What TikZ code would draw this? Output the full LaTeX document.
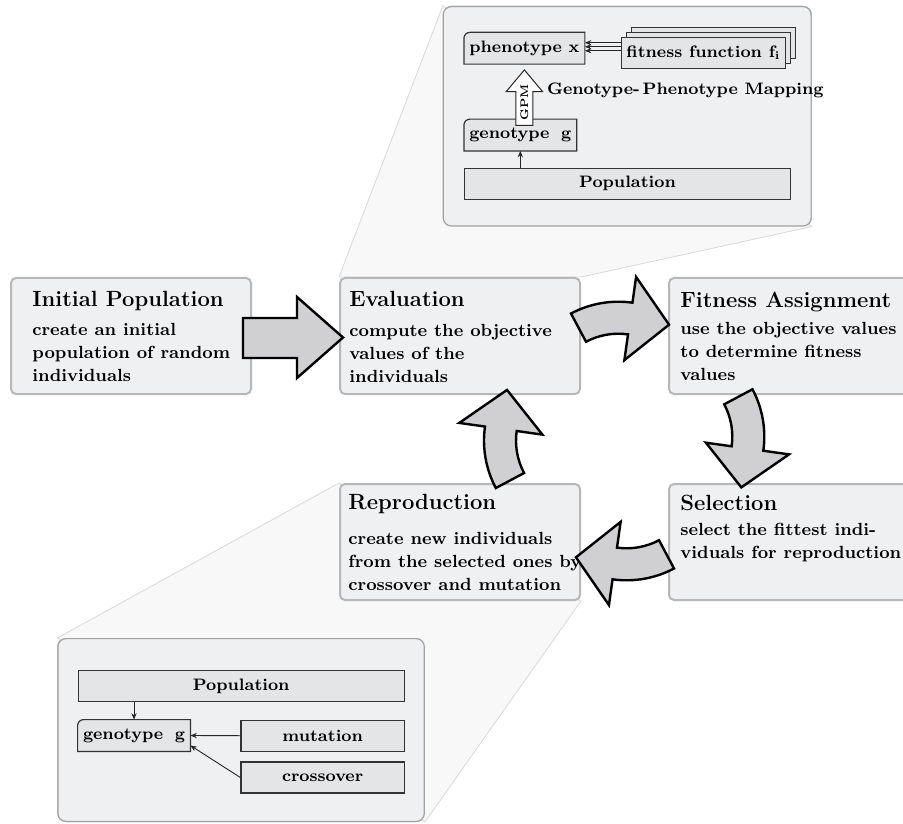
\documentclass[tikz,border=0pt]{standalone}
\usepackage{fontspec}
\usepackage{tikz}
\usetikzlibrary{positioning,arrows.meta,shapes.arrows,shadows,backgrounds}
\definecolor{panelfill}{RGB}{239,240,242}
\definecolor{panelline}{RGB}{182,183,185}
\definecolor{insetline}{RGB}{160,161,163}
\definecolor{boxfill}{RGB}{228,229,231}
\definecolor{arrowfill}{RGB}{208,208,210}
\definecolor{conefill}{RGB}{248,248,248}
\definecolor{coneline}{RGB}{216,216,216}

\tikzset{
  cyclearrow/.pic={
    \draw[bigarrow] (118:101) arc[start angle=118, end angle=82, radius=101]
      -- (82:127) -- (57:93) -- (82:43) -- (82:69)
      arc[start angle=82, end angle=118, radius=69] -- cycle;
  }
}

\begin{document}
\begin{tikzpicture}[x=0.5pt, y=0.5pt,
  stage/.style={rectangle, draw=panelline, fill=panelfill, line width=1pt, rounded corners=2.5pt,
                minimum width=120pt, minimum height=58pt, anchor=north west},
  stagetext/.style={anchor=north west, inner sep=0pt, align=left,
                    font=\fontsize{8.8}{11.5}\selectfont\bfseries},
  inset/.style={rectangle, draw=insetline, fill=panelfill, line width=0.6pt, rounded corners=4pt,
                anchor=north west},
  cone/.style={fill=conefill, draw=coneline, line width=0.4pt},
  ibox/.style={rectangle, draw=black!80, fill=boxfill, line width=0.6pt, minimum height=15.5pt,
               inner sep=2.5pt, font=\fontsize{8.3}{10}\selectfont\bfseries},
  gnode/.style={rectangle, minimum height=15.5pt, inner sep=2.5pt,
                font=\fontsize{8.3}{10}\selectfont\bfseries},
  gframe/.style={draw=black!80, fill=boxfill, line width=0.6pt},
  ilabel/.style={inner sep=0pt, font=\fontsize{8.3}{10}\selectfont\bfseries},
  ea/.style={-{Stealth[length=3.2pt, width=2.6pt]}, line width=0.45pt, black!85},
  bigarrow/.style={draw=black, fill=arrowfill, line width=1.2pt, line join=miter},
  gpm/.style={single arrow, draw=black!85, fill=white, line width=0.5pt, rotate=90,
              minimum height=23.4pt, single arrow head extend=4.9pt, single arrow tip angle=80,
              inner sep=2pt, font=\fontsize{5.5}{6}\selectfont\bfseries},
]
\useasboundingbox (0,0) rectangle (903,-823);

% the five stages of the cycle
\node[stage] (init) at (10,-277) {};
\node[stage, right=43.5pt of init] (eval) {};
\node[stage, right=43.5pt of eval] (fit) {};
\node[stage, below=44pt of fit] (sel) {};
\node[stage, below=44pt of eval] (repr) {};

\node[stagetext] (init-txt) at ([shift={(22,-14)}]init.north west)
  {\fontsize{11}{13}\selectfont Initial Population\\[3pt]
   create an initial\\population of random\\individuals};
\node[stagetext] (eval-txt) at ([shift={(10,-14)}]eval.north west)
  {\fontsize{11}{13}\selectfont Evaluation\\[3.5pt]
   compute the objective\\values of the\\individuals};
\node[stagetext] (fit-txt) at ([shift={(12,-15)}]fit.north west)
  {\fontsize{11}{13}\selectfont Fitness Assignment\\[2pt]
   use the objective values\\to determine fitness\\values};
\node[stagetext] (sel-txt) at ([shift={(12,-12)}]sel.north west)
  {\fontsize{11}{13}\selectfont Selection\\[1pt]
   select the fittest indi-\\viduals for reproduction};
\node[stagetext] (repr-txt) at ([shift={(9,-11)}]repr.north west)
  {\fontsize{11}{13}\selectfont Reproduction\\[6pt]
   create new individuals\\from the selected ones by\\crossover and mutation};

% zoomed views
\begin{scope}[on background layer]
  \node[inset, minimum width=183.9pt, minimum height=109.7pt] (topzoom) at (442.7,-6) {};
  \node[inset, minimum width=183.2pt, minimum height=91.4pt] (botzoom) at (57.3,-638) {};
  \draw[cone] (eval.north west) -- (topzoom.north west) -- (topzoom.south east)
    -- (eval.north east) -- cycle;
  \draw[cone] (repr.north west) -- (botzoom.north west) -- (botzoom.south east)
    -- (repr.south east) -- cycle;
  \node[inset, minimum width=183.9pt, minimum height=109.7pt] at (442.7,-6) {};
  \node[inset, minimum width=183.2pt, minimum height=91.4pt] at (57.3,-638) {};
\end{scope}

% evaluation detail
\node[ibox, minimum width=163pt] (pop) at (627.5,-183.65) {Population};
\node[gnode, above=8.3pt of pop.north west, anchor=south west] (geno)
  {\makebox[51pt][s]{genotype\hfill g}};
\node[gnode, above=27.5pt of geno.north west, anchor=south west] (pheno)
  {phenotype x};
\node[ibox, minimum width=82pt, right=18pt of pheno, yshift=-2.25pt,
      double copy shadow={shadow xshift=2.5pt, shadow yshift=2.5pt}] (fitf)
  {fitness function f\textsubscript{i}};
\node[gpm, anchor=tip] (gpm) at ([yshift=-2.5pt]pheno.south) {GPM};
\node[ilabel, anchor=base west] (gpmlbl) at (546.7,-95) {Genotype-\,Phenotype Mapping};

\draw[ea] (pop.north -| geno.south) -- (geno.south);
\foreach \dy in {5,3,1}
  \draw[ea] ([yshift=\dy pt]fitf.west) -- ([yshift=\dy pt]fitf.west -| pheno.east);

% reproduction detail
\node[ibox, minimum width=163pt] (pop2) at (241.2,-685.9) {Population};
\node[gnode, below=8.8pt of pop2.south west, anchor=north west] (geno2)
  {\makebox[51pt][s]{genotype\hfill g}};
\node[ibox, minimum width=81.6pt, below=8.8pt of pop2.south east, anchor=north east] (mut)
  {mutation};
\node[ibox, minimum width=81.6pt, below=4.8pt of mut] (cross) {crossover};

\draw[ea] (pop2.south -| geno2.north) -- (geno2.north);
\draw[ea] (mut.west) -- (geno2.east);
\draw[ea] (cross.west) -- ([yshift=-5pt]geno2.east);

% frames with one rounded corner
\begin{scope}[on background layer]
  \foreach \n in {geno,pheno,geno2}
    \draw[gframe] (\n.south west) -- ([yshift=-3pt]\n.north west)
      arc[start angle=180, end angle=90, radius=3pt] -- (\n.north east)
      -- (\n.south east) -- cycle;
\end{scope}

% big arrows
\draw[bigarrow] (243,-318) -- (297,-318) -- (297,-297) -- (343,-337.5) -- (297,-378)
  -- (297,-358) -- (243,-358) -- cycle;
\foreach \cx/\cy/\ang in {618.4/-402.7/0, 663.3/-436.7/-90, 626.6/-479.3/180, 585/-440.6/90}
  \pic[rotate=\ang] at (\cx,\cy) {cyclearrow};

\end{tikzpicture}
\end{document}
